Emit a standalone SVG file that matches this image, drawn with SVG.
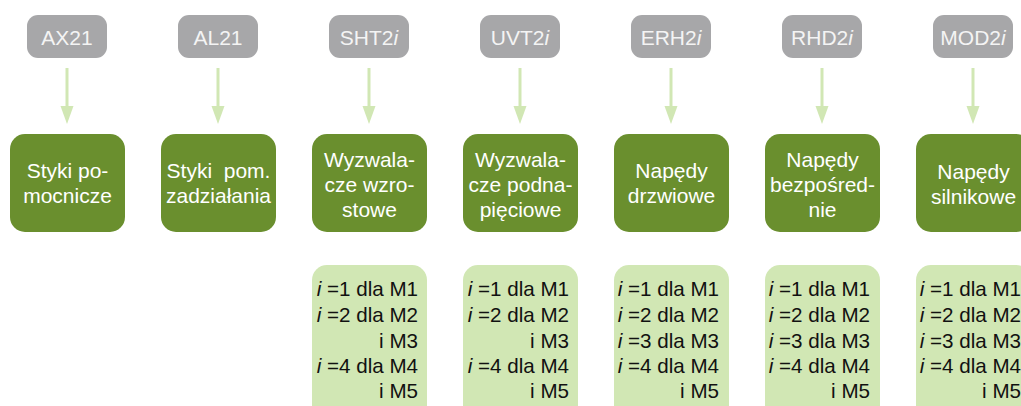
<svg xmlns="http://www.w3.org/2000/svg" width="1021" height="406" viewBox="0 0 1021 406">
<style>
text{font-family:"Liberation Sans",Arial,sans-serif;font-size:21px}
.g{fill:#a7a7a9}
.gt{fill:#f4f4f4;text-anchor:middle}
.d{fill:#6a8f2e}
.dt{fill:#ffffff;text-anchor:middle}
.l{fill:#d1e7b4}
.lt{fill:#111111;text-anchor:end;font-size:20.6px}
.c{stroke:#d1e7b4;stroke-width:3;fill:none}
.h{fill:#d1e7b4}
.i{font-style:italic}
</style>
<g id="connectors">
<path class="c" d="M67,68 V106"/><path class="h" d="M60.5,106 H73.5 L67,124 Z"/>
<path class="c" d="M218,68 V106"/><path class="h" d="M211.5,106 H224.5 L218,124 Z"/>
<path class="c" d="M369,68 V106"/><path class="h" d="M362.5,106 H375.5 L369,124 Z"/>
<path class="c" d="M520,68 V106"/><path class="h" d="M513.5,106 H526.5 L520,124 Z"/>
<path class="c" d="M671,68 V106"/><path class="h" d="M664.5,106 H677.5 L671,124 Z"/>
<path class="c" d="M822,68 V106"/><path class="h" d="M815.5,106 H828.5 L822,124 Z"/>
<path class="c" d="M973,68 V106"/><path class="h" d="M966.5,106 H979.5 L973,124 Z"/>
</g>
<g id="src-AX21"><rect class="g" x="27" y="15" width="80" height="43" rx="11"/><text class="gt" x="67" y="45">AX21</text></g>
<g id="src-AL21"><rect class="g" x="178" y="15" width="80" height="43" rx="11"/><text class="gt" x="218" y="45">AL21</text></g>
<g id="src-SHT2i"><rect class="g" x="329" y="15" width="80" height="43" rx="11"/><text class="gt" x="369" y="45">SHT2<tspan class="i">i</tspan></text></g>
<g id="src-UVT2i"><rect class="g" x="480" y="15" width="80" height="43" rx="11"/><text class="gt" x="520" y="45">UVT2<tspan class="i">i</tspan></text></g>
<g id="src-ERH2i"><rect class="g" x="631" y="15" width="80" height="43" rx="11"/><text class="gt" x="671" y="45">ERH2<tspan class="i">i</tspan></text></g>
<g id="src-RHD2i"><rect class="g" x="782" y="15" width="80" height="43" rx="11"/><text class="gt" x="822" y="45">RHD2<tspan class="i">i</tspan></text></g>
<g id="src-MOD2i"><rect class="g" x="933" y="15" width="80" height="43" rx="11"/><text class="gt" x="973" y="45">MOD2<tspan class="i">i</tspan></text></g>

<g id="n-styki-pom"><rect class="d" x="10" y="134" width="115" height="98" rx="15"/><text class="dt" x="67.5" y="178">Styki po-</text><text class="dt" x="67.5" y="203">mocnicze</text></g>
<g id="n-styki-zadz"><rect class="d" x="161" y="134" width="115" height="98" rx="15"/><text class="dt" x="218.5" y="178" xml:space="preserve">Styki  pom.</text><text class="dt" x="218.5" y="203">zadziałania</text></g>
<g id="n-wyzw-wzr"><rect class="d" x="312" y="134" width="115" height="98" rx="15"/><text class="dt" x="369.5" y="167">Wyzwala-</text><text class="dt" x="369.5" y="192">cze wzro-</text><text class="dt" x="369.5" y="217">stowe</text></g>
<g id="n-wyzw-podn"><rect class="d" x="463" y="134" width="115" height="98" rx="15"/><text class="dt" x="520.5" y="167">Wyzwala-</text><text class="dt" x="520.5" y="192">cze podna-</text><text class="dt" x="520.5" y="217">pięciowe</text></g>
<g id="n-nap-drzw"><rect class="d" x="614" y="134" width="115" height="98" rx="15"/><text class="dt" x="671.5" y="178">Napędy</text><text class="dt" x="671.5" y="203">drzwiowe</text></g>
<g id="n-nap-bezp"><rect class="d" x="765" y="134" width="115" height="98" rx="15"/><text class="dt" x="822.5" y="167">Napędy</text><text class="dt" x="822.5" y="192">bezpośred-</text><text class="dt" x="822.5" y="217">nie</text></g>
<g id="n-nap-siln"><rect class="d" x="916" y="134" width="115" height="98" rx="15"/><text class="dt" x="973.5" y="179">Napędy</text><text class="dt" x="973.5" y="204">silnikowe</text></g>

<g id="note-SHT"><rect class="l" x="312" y="265" width="115" height="170" rx="15"/>
<text class="lt" x="418" y="296"><tspan class="i">i</tspan> =1 dla M1</text>
<text class="lt" x="418" y="322"><tspan class="i">i</tspan> =2 dla M2</text>
<text class="lt" x="418" y="348">i M3</text>
<text class="lt" x="418" y="373"><tspan class="i">i</tspan> =4 dla M4</text>
<text class="lt" x="418" y="398">i M5</text></g>
<g id="note-UVT"><rect class="l" x="463" y="265" width="115" height="170" rx="15"/>
<text class="lt" x="569" y="296"><tspan class="i">i</tspan> =1 dla M1</text>
<text class="lt" x="569" y="322"><tspan class="i">i</tspan> =2 dla M2</text>
<text class="lt" x="569" y="348">i M3</text>
<text class="lt" x="569" y="373"><tspan class="i">i</tspan> =4 dla M4</text>
<text class="lt" x="569" y="398">i M5</text></g>
<g id="note-ERH"><rect class="l" x="614" y="265" width="115" height="170" rx="15"/>
<text class="lt" x="719" y="296"><tspan class="i">i</tspan> =1 dla M1</text>
<text class="lt" x="719" y="322"><tspan class="i">i</tspan> =2 dla M2</text>
<text class="lt" x="719" y="348"><tspan class="i">i</tspan> =3 dla M3</text>
<text class="lt" x="719" y="373"><tspan class="i">i</tspan> =4 dla M4</text>
<text class="lt" x="719" y="398">i M5</text></g>
<g id="note-RHD"><rect class="l" x="765" y="265" width="115" height="170" rx="15"/>
<text class="lt" x="870" y="296"><tspan class="i">i</tspan> =1 dla M1</text>
<text class="lt" x="870" y="322"><tspan class="i">i</tspan> =2 dla M2</text>
<text class="lt" x="870" y="348"><tspan class="i">i</tspan> =3 dla M3</text>
<text class="lt" x="870" y="373"><tspan class="i">i</tspan> =4 dla M4</text>
<text class="lt" x="870" y="398">i M5</text></g>
<g id="note-MOD"><rect class="l" x="916" y="265" width="115" height="170" rx="15"/>
<text class="lt" x="1021" y="296"><tspan class="i">i</tspan> =1 dla M1</text>
<text class="lt" x="1021" y="322"><tspan class="i">i</tspan> =2 dla M2</text>
<text class="lt" x="1021" y="348"><tspan class="i">i</tspan> =3 dla M3</text>
<text class="lt" x="1021" y="373"><tspan class="i">i</tspan> =4 dla M4</text>
<text class="lt" x="1021" y="398">i M5</text></g>
</svg>
